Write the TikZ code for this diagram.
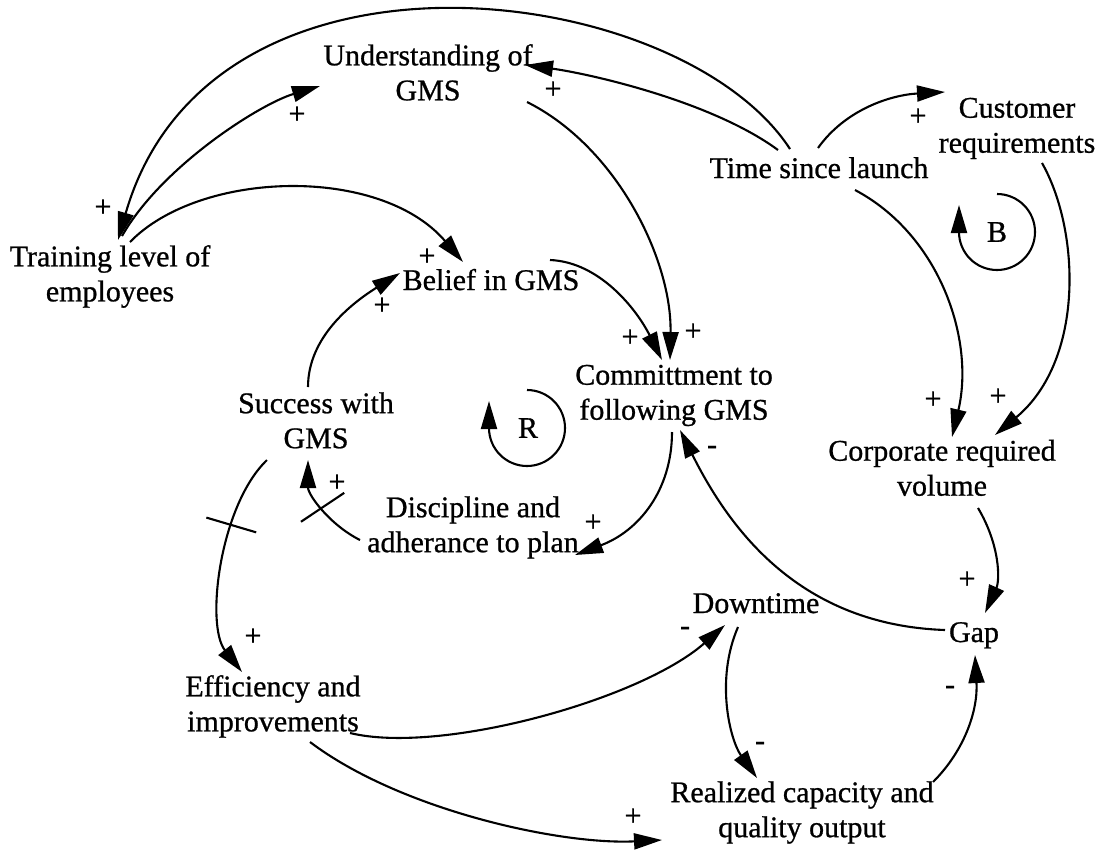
\documentclass[tikz,border=0pt]{standalone}
\usepackage{fontspec}
\setmainfont[FakeBold=0.8]{Liberation Serif}
\usetikzlibrary{arrows.meta,calc,decorations.markings}
\begin{document}
\begin{tikzpicture}[x=1pt,y=-1pt,
  var/.style={align=center, inner sep=0pt, font=\fontsize{30}{35}\selectfont,
    execute at begin node=\strut, execute at end node=\strut},
  sign/.style={inner sep=0pt, font=\fontsize{30}{35}\selectfont},
  link/.style={line width=2.1pt, -{Triangle[length=28pt,width=16pt]}},
  delay/.style={postaction={decorate, decoration={markings,
    mark=at position #1 with {\draw[line width=2.1pt,-] (0,-26) -- (0,26);}}}}
]
\useasboundingbox (0,0) rectangle (1105,852);

% variables
\node[var] (und)     at (428,77.5)  {Understanding of\\GMS};
\node[var] (time)    at (819,171)   {Time since launch};
\node[var] (cust)    at (1017,130.5){Customer\\requirements};
\node[var] (train)   at (110,278.5) {Training level of\\employees};
\node[var] (belief)  at (491,283)   {Belief in GMS};
\node[var] (commit)  at (674,397.5) {Committment to\\following GMS};
\node[var] (success) at (316,425.5) {Success with\\GMS};
\node[var] (disc)    at (473,529.5) {Discipline and\\adherance to plan};
\node[var] (eff)     at (273,708.5) {Efficiency and\\improvements};
\node[var] (down)    at (756,606)   {Downtime};
\node[var] (gap)     at (974,635)   {Gap};
\node[var] (corp)    at (942,473)   {Corporate required\\volume};
\node[var] (real)    at (802,814.5) {Realized capacity and\\quality output};

% causal links
\draw[link] ($(time)+(-29,-22)$) .. controls +(-110,-169) and +(92,-320) .. ($(train)+(8,-38.5)$);
\draw[link] ($(train)+(12,-42.5)$) .. controls +(40,-70) and +(-60,18) .. ($(und)+(-108,8.5)$);
\draw[link] ($(time)+(-41,-21)$) .. controls +(-68,-50) and +(60,8) .. ($(und)+(97,-12.5)$);
\draw[link] ($(time)+(-1,-23)$) .. controls +(27,-38) and +(-55,3) .. ($(cust)+(-72,-38.5)$);
\draw[link] ($(train)+(20,-36.5)$) .. controls +(70,-72) and +(-83,-97) .. ($(belief)+(-28,-21)$);
\draw[link] ($(success)+(-8,-38.5)$) .. controls +(0,-50) and +(-48,30) .. ($(belief)+(-91,-10)$);
\draw[link] ($(belief)+(59,-23)$) .. controls +(50,2) and +(-25,-50) .. ($(commit)+(-12,-37.5)$);
\draw[link] ($(und)+(99,24.5)$) .. controls +(90,45) and +(2,-100) .. ($(commit)+(-4,-37.5)$);
\draw[link] ($(commit)+(-2,34.5)$) .. controls +(0,58) and +(64,-24) .. ($(disc)+(102,25.5)$);
\draw[link,delay=0.5] ($(disc)+(-113,10.5)$) .. controls +(-30,-15) and +(0,35) .. ($(success)+(-8,34.5)$);
\draw[link,delay=0.33] ($(success)+(-49,34.5)$) .. controls +(-47,45) and +(-37,-47) .. ($(eff)+(-31,-36.5)$);
\draw[link] ($(eff)+(77,24.5)$) .. controls +(90,22) and +(-85,75) .. ($(down)+(-31,19)$);
\draw[link] ($(eff)+(37,33.5)$) .. controls +(90,68) and +(-102,5) .. ($(real)+(-140,25.5)$);
\draw[link] ($(down)+(-18,21)$) .. controls +(-23,53) and +(-27,-38) .. ($(real)+(-45,-36.5)$);
\draw[link] ($(real)+(131,-32.5)$) .. controls +(32,-32) and +(3,55) .. ($(gap)+(1,20)$);
\draw[link] ($(corp)+(36,35)$) .. controls +(22,37) and +(15,-33) .. ($(gap)+(11,-22)$);
\draw[link] ($(gap)+(-29,-5)$) .. controls +(-145,-5) and +(50,100) .. ($(commit)+(6,32.5)$);
\draw[link] ($(time)+(36,19)$) .. controls +(85,45) and +(23,-97) .. ($(corp)+(10,-36)$);
\draw[link] ($(cust)+(25,32.5)$) .. controls +(38,67) and +(90,-75) .. ($(corp)+(53,-38)$);

% loop markers
\draw[link] (527,390) arc[start angle=-90, end angle=180, radius=38] -- ++(0,-27);
\node[sign] (rlab) at (528,428) {R};
\draw[link] (997,194) arc[start angle=-90, end angle=180, radius=38] -- ++(0,-27);
\node[sign] (blab) at (997,232) {B};

% polarities
\node[sign] (p1)  at (297,115) {+};
\node[sign] (p2)  at (553,90)  {+};
\node[sign] (p3)  at (103,208) {+};
\node[sign] (p4)  at (427,257) {+};
\node[sign] (p5)  at (382,306) {+};
\node[sign] (p6)  at (630,338) {+};
\node[sign] (p7)  at (693,332) {+};
\node[sign] (p8)  at (593,523) {+};
\node[sign] (p9)  at (337,483) {+};
\node[sign] (p10) at (253,637) {+};
\node[sign] (p11) at (685,631) {-};
\node[sign] (p12) at (633,817) {+};
\node[sign] (p13) at (760,746) {-};
\node[sign] (p14) at (950,690) {-};
\node[sign] (p15) at (967,580) {+};
\node[sign] (p16) at (712,450) {-};
\node[sign] (p17) at (933,400) {+};
\node[sign] (p18) at (998,397) {+};
\node[sign] (p19) at (918,117) {+};
\end{tikzpicture}
\end{document}
